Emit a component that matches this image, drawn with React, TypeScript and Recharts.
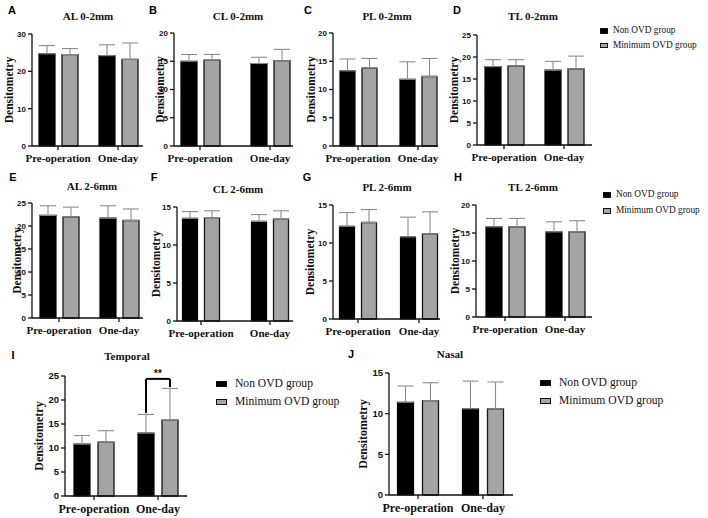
import { BarChart, Bar, XAxis, YAxis, ErrorBar, Legend, ReferenceLine } from "recharts";

const SERIF = "'Liberation Serif', 'Times New Roman', serif";
const SANS = "'Liberation Sans', Arial, sans-serif";
const BLACK = "#000000";
const GRAY = "#a4a4a4";

const groups = ["Pre-operation", "One-day"];
const seriesNames = ["Non OVD group", "Minimum OVD group"];

const ticks15 = [0, 5, 10, 15];
const ticks20 = [0, 5, 10, 15, 20];
const ticks25 = [0, 5, 10, 15, 20, 25];
const ticks30 = [0, 10, 20, 30];

// A  AL 0-2mm
const al02Non = [24.7, 24.2];
const al02NonSd = [2.2, 2.9];
const al02Min = [24.5, 23.2];
const al02MinSd = [1.6, 4.4];
// B  CL 0-2mm
const cl02Non = [15.0, 14.6];
const cl02NonSd = [1.2, 1.1];
const cl02Min = [15.2, 15.1];
const cl02MinSd = [1.0, 2.0];
// C  PL 0-2mm
const pl02Non = [13.3, 11.8];
const pl02NonSd = [2.1, 3.1];
const pl02Min = [13.8, 12.3];
const pl02MinSd = [1.7, 3.2];
// D  TL 0-2mm
const tl02Non = [17.8, 17.0];
const tl02NonSd = [1.6, 2.0];
const tl02Min = [18.0, 17.3];
const tl02MinSd = [1.4, 2.9];
// E  AL 2-6mm
const al26Non = [22.3, 21.7];
const al26NonSd = [2.1, 2.7];
const al26Min = [22.0, 21.2];
const al26MinSd = [2.1, 2.5];
// F  CL 2-6mm
const cl26Non = [13.5, 13.1];
const cl26NonSd = [0.9, 0.9];
const cl26Min = [13.6, 13.4];
const cl26MinSd = [0.9, 1.1];
// G  PL 2-6mm
const pl26Non = [12.2, 10.8];
const pl26NonSd = [1.8, 2.6];
const pl26Min = [12.7, 11.2];
const pl26MinSd = [1.7, 2.9];
// H  TL 2-6mm
const tl26Non = [16.1, 15.2];
const tl26NonSd = [1.5, 1.8];
const tl26Min = [16.1, 15.2];
const tl26MinSd = [1.5, 2.0];
// I  Temporal
const tempNon = [10.8, 13.1];
const tempNonSd = [1.8, 3.9];
const tempMin = [11.2, 15.8];
const tempMinSd = [2.4, 6.6];
// J  Nasal
const nasNon = [11.4, 10.6];
const nasNonSd = [2.0, 3.4];
const nasMin = [11.6, 10.6];
const nasMinSd = [2.2, 3.3];

// significance bracket on Temporal, one-day (**)
const sigTop = 24.4;
const sigLeftEnd = 17.3;
const sigRightEnd = 22.7;

function rowsOf(non: number[], nonSd: number[], min: number[], minSd: number[]) {
  return groups.map((g, i) => ({
    pos: i,
    group: g,
    non: non[i],
    nonErr: [0, nonSd[i]],
    min: min[i],
    minErr: [0, minSd[i]],
  }));
}

type Lay = {
  L: number; R: number; T: number; B: number; c1: number; c2: number;
  tx: number; ty: number; lx: number; ly: number; off: number;
  bar: number; gap: number; big?: boolean;
  legend?: { x: number; y: number; font: number; row: number; sw: number; sh: number; sp: number };
  sig?: boolean;
};

const legendContent = (lg: NonNullable<Lay["legend"]>) => () => (
  <div style={{ fontFamily: SERIF, fontSize: lg.font, color: "#111", lineHeight: 1 }}>
    {seriesNames.map((name, i) => (
      <div key={name} style={{ display: "flex", alignItems: "center", height: lg.row, whiteSpace: "nowrap" }}>
        <span
          style={{
            display: "inline-block",
            width: lg.sw,
            height: lg.sh,
            background: i === 0 ? BLACK : GRAY,
            border: "1.2px solid #111",
            boxSizing: "border-box",
            marginRight: lg.sp,
          }}
        />
        <span>{name}</span>
      </div>
    ))}
  </div>
);

const PAD_TOP = 12;

function Panel({ letter, title, rows, ticks, lay }: { letter: string; title: string; rows: any[]; ticks: number[]; lay: Lay }) {
  const yw = lay.off * 2;
  const left = lay.L - yw;
  const top = lay.T - PAD_TOP;
  const width = lay.R - left + 4;
  const height = lay.B - lay.T + PAD_TOP + 32;
  const span = lay.c2 - lay.c1;
  const domain = [(lay.L - lay.c1) / span, 1 + (lay.R - lay.c2) / span];
  const half = (lay.bar + lay.gap) / 2 / span;
  const xTick = lay.big ? 12 : 11;
  const yTick = lay.big ? 9.5 : 8;
  const axisStyle = { stroke: "#111", strokeWidth: 1.3 };

  return (
    <>
      <div
        style={{
          position: "absolute", left: lay.lx, top: lay.ly, transform: "translate(-50%,-50%)",
          fontFamily: SANS, fontWeight: 700, fontSize: 11, color: "#000",
        }}
      >
        {letter}
      </div>
      <div
        style={{
          position: "absolute", left: lay.tx, top: lay.ty, transform: "translate(-50%,-50%)",
          fontFamily: SERIF, fontWeight: 700, fontSize: 11, color: "#111", whiteSpace: "nowrap",
        }}
      >
        {title}
      </div>
      <div style={{ position: "absolute", left, top }}>
        <BarChart
          width={width}
          height={height}
          data={rows}
          margin={{ top: PAD_TOP, right: 4, left: 0, bottom: 0 }}
          barSize={lay.bar}
          barGap={lay.gap}
        >
          <XAxis
            type="number"
            dataKey="pos"
            domain={domain}
            allowDataOverflow
            ticks={[0, 1]}
            tickFormatter={(v: number) => groups[v] ?? ""}
            interval={0}
            height={32}
            tickSize={4}
            tickMargin={4}
            axisLine={axisStyle}
            tickLine={axisStyle}
            tick={{ fontFamily: SERIF, fontWeight: 700, fontSize: xTick, fill: "#111" }}
          />
          <YAxis
            width={yw}
            domain={[0, ticks[ticks.length - 1]]}
            ticks={ticks}
            interval={0}
            tickSize={4}
            tickMargin={2}
            axisLine={axisStyle}
            tickLine={axisStyle}
            tick={{ fontFamily: SANS, fontWeight: 700, fontSize: yTick, fill: "#111" }}
            label={{
              value: "Densitometry",
              angle: -90,
              position: "center",
              fontFamily: SERIF,
              fontWeight: 700,
              fontSize: lay.big ? 12 : 11.5,
              fill: "#111",
            }}
          />
          {lay.legend && (
            <Legend
              layout="vertical"
              align="center"
              verticalAlign="middle"
              content={legendContent(lay.legend)}
              wrapperStyle={{ left: lay.legend.x - left, top: lay.legend.y - top, width: 150, height: "auto" }}
            />
          )}
          <Bar dataKey="non" name={seriesNames[0]} fill={BLACK} stroke="#000" strokeWidth={1.2} isAnimationActive={false}>
            <ErrorBar dataKey="nonErr" direction="y" width={8} stroke="#8c8c8c" strokeWidth={1.1} />
          </Bar>
          <Bar dataKey="min" name={seriesNames[1]} fill={GRAY} stroke="#151515" strokeWidth={1.3} isAnimationActive={false}>
            <ErrorBar dataKey="minErr" direction="y" width={8} stroke="#8c8c8c" strokeWidth={1.1} />
          </Bar>
          {lay.sig && (
            <ReferenceLine
              segment={[{ x: 1 - half, y: sigLeftEnd }, { x: 1 - half, y: sigTop }]}
              stroke="#000"
              strokeWidth={2}
              ifOverflow="visible"
            />
          )}
          {lay.sig && (
            <ReferenceLine
              segment={[{ x: 1 - half, y: sigTop }, { x: 1 + half, y: sigTop }]}
              stroke="#000"
              strokeWidth={2}
              ifOverflow="visible"
              label={{ value: "**", position: "top", offset: 2, fontFamily: SANS, fontWeight: 700, fontSize: 10, fill: "#111" }}
            />
          )}
          {lay.sig && (
            <ReferenceLine
              segment={[{ x: 1 + half, y: sigRightEnd }, { x: 1 + half, y: sigTop }]}
              stroke="#000"
              strokeWidth={2}
              ifOverflow="visible"
            />
          )}
        </BarChart>
      </div>
    </>
  );
}

const smallLegend = { font: 9.3, sw: 8, sh: 5.5, sp: 5 };
const bigLegend = { font: 11.6, row: 18, sw: 11, sh: 6.5, sp: 8 };

export default function App() {
  return (
    <div style={{ position: "absolute", left: 0, top: 0, width: 708, height: 518, background: "#fff", overflow: "hidden" }}>
      <Panel letter="A" title="AL 0-2mm" rows={rowsOf(al02Non, al02NonSd, al02Min, al02MinSd)} ticks={ticks30}
        lay={{ L: 32, R: 143, T: 34, B: 146, c1: 58, c2: 118, tx: 88, ty: 16, lx: 12, ly: 10, off: 23, bar: 16, gap: 7 }} />
      <Panel letter="B" title="CL 0-2mm" rows={rowsOf(cl02Non, cl02NonSd, cl02Min, cl02MinSd)} ticks={ticks20}
        lay={{ L: 174, R: 293, T: 33, B: 146, c1: 200, c2: 270, tx: 238, ty: 16, lx: 153, ly: 10, off: 14, bar: 16, gap: 7 }} />
      <Panel letter="C" title="PL 0-2mm" rows={rowsOf(pl02Non, pl02NonSd, pl02Min, pl02MinSd)} ticks={ticks20}
        lay={{ L: 333, R: 438, T: 33, B: 146, c1: 358, c2: 418, tx: 387, ty: 16, lx: 308, ly: 10, off: 22, bar: 15, gap: 7 }} />
      <Panel letter="D" title="TL 0-2mm" rows={rowsOf(tl02Non, tl02NonSd, tl02Min, tl02MinSd)} ticks={ticks25}
        lay={{ L: 477, R: 592, T: 35, B: 145, c1: 504, c2: 564, tx: 533, ty: 16, lx: 457, ly: 10, off: 23, bar: 16, gap: 7,
          legend: { x: 600, y: 23.75, row: 14.5, ...smallLegend } }} />
      <Panel letter="E" title="AL 2-6mm" rows={rowsOf(al26Non, al26NonSd, al26Min, al26MinSd)} ticks={ticks25}
        lay={{ L: 32, R: 143, T: 203, B: 318, c1: 59, c2: 119, tx: 92, ty: 186, lx: 13, ly: 177, off: 15, bar: 16, gap: 7 }} />
      <Panel letter="F" title="CL 2-6mm" rows={rowsOf(cl26Non, cl26NonSd, cl26Min, cl26MinSd)} ticks={ticks15}
        lay={{ L: 177, R: 293, T: 207, B: 321, c1: 201, c2: 270, tx: 238, ty: 189, lx: 154, ly: 177, off: 21, bar: 15, gap: 7 }} />
      <Panel letter="G" title="PL 2-6mm" rows={rowsOf(pl26Non, pl26NonSd, pl26Min, pl26MinSd)} ticks={ticks15}
        lay={{ L: 333, R: 440, T: 205, B: 319, c1: 358, c2: 419, tx: 387, ty: 187, lx: 307, ly: 177, off: 23, bar: 15, gap: 7 }} />
      <Panel letter="H" title="TL 2-6mm" rows={rowsOf(tl26Non, tl26NonSd, tl26Min, tl26MinSd)} ticks={ticks20}
        lay={{ L: 476, R: 592, T: 205, B: 317, c1: 505, c2: 565, tx: 533, ty: 187, lx: 458, ly: 177, off: 21, bar: 16, gap: 7,
          legend: { x: 603, y: 187, row: 16, ...smallLegend } }} />
      <Panel letter="I" title="Temporal" rows={rowsOf(tempNon, tempNonSd, tempMin, tempMinSd)} ticks={ticks25}
        lay={{ L: 65, R: 187, T: 376, B: 496, c1: 94, c2: 158, tx: 127, ty: 356, lx: 13, ly: 355, off: 26, bar: 16, gap: 8, big: true, sig: true,
          legend: { x: 216, y: 375, ...bigLegend } }} />
      <Panel letter="J" title="Nasal" rows={rowsOf(nasNon, nasNonSd, nasMin, nasMinSd)} ticks={ticks15}
        lay={{ L: 389, R: 513, T: 373, B: 495, c1: 418, c2: 483, tx: 450, ty: 354, lx: 351, ly: 354, off: 26, bar: 16, gap: 9, big: true,
          legend: { x: 540, y: 374, ...bigLegend } }} />
    </div>
  );
}
